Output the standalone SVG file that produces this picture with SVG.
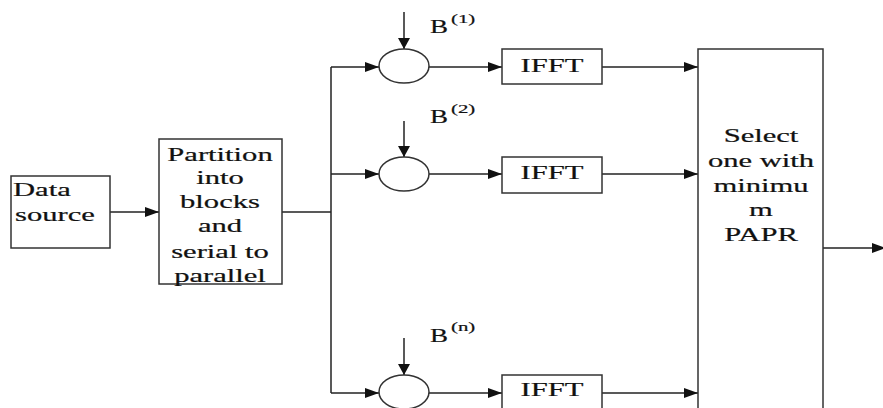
<svg xmlns="http://www.w3.org/2000/svg" width="883" height="408" viewBox="0 0 883 408">
<style>
.box{fill:#fff;stroke:#333;stroke-width:1.5}
.ln{fill:none;stroke:#222;stroke-width:1.5}
text{font-family:'Liberation Serif','DejaVu Serif',serif;font-size:18px;fill:#111;stroke:#111;stroke-width:0.2}
.m{text-anchor:middle}
.s{font-size:13px}
</style>
<defs>
<marker id="ah" viewBox="0 0 14 10" refX="14" refY="5" markerWidth="14" markerHeight="10" markerUnits="userSpaceOnUse" orient="auto"><path d="M0,0 L14,5 L0,10 z" fill="#111"/></marker>
<marker id="av" viewBox="0 0 11 12" refX="11" refY="6" markerWidth="11" markerHeight="12" markerUnits="userSpaceOnUse" orient="auto"><path d="M0,0 L11,6 L0,12 z" fill="#111"/></marker>
</defs>
<rect width="883" height="408" fill="#fff"/>
<g id="connectors">
<path class="ln" d="M110,212 H159" marker-end="url(#ah)"/>
<path class="ln" d="M282,212 H331"/>
<path class="ln" d="M331,67 V393"/>
<path class="ln" d="M331,67 H379" marker-end="url(#ah)"/>
<path class="ln" d="M331,174 H379" marker-end="url(#ah)"/>
<path class="ln" d="M331,393 H379" marker-end="url(#ah)"/>
<path class="ln" d="M404,12 V49" marker-end="url(#av)"/>
<path class="ln" d="M404,121 V157" marker-end="url(#av)"/>
<path class="ln" d="M404,338 V375" marker-end="url(#av)"/>
<path class="ln" d="M429,67 H502" marker-end="url(#ah)"/>
<path class="ln" d="M429,174 H502" marker-end="url(#ah)"/>
<path class="ln" d="M429,393 H502" marker-end="url(#ah)"/>
<path class="ln" d="M602,67 H698" marker-end="url(#ah)"/>
<path class="ln" d="M602,174 H698" marker-end="url(#ah)"/>
<path class="ln" d="M602,393 H698" marker-end="url(#ah)"/>
<path class="ln" d="M823,248 H886" marker-end="url(#ah)"/>
</g>
<g id="data-source">
<rect class="box" x="11" y="176" width="99" height="72"/>
<text transform="translate(13,196) scale(1.7,1)">Data</text>
<text transform="translate(15,221) scale(1.7,1)">source</text>
</g>
<g id="partition">
<rect class="box" x="159" y="139" width="123" height="145"/>
<text class="m" transform="translate(220,161) scale(1.7,1)">Partition</text>
<text class="m" transform="translate(220,184) scale(1.7,1)">into</text>
<text class="m" transform="translate(220,208) scale(1.7,1)">blocks</text>
<text class="m" transform="translate(220,232) scale(1.7,1)">and</text>
<text class="m" transform="translate(220,258) scale(1.7,1)">serial to</text>
<text class="m" transform="translate(220,282) scale(1.7,1)">parallel</text>
</g>
<g id="mult-1">
<ellipse class="box" cx="404" cy="66" rx="25" ry="17"/>
<text transform="translate(430,33) scale(1.5,1)">B</text>
<text class="s" transform="translate(451,23) scale(1.6,1)">(1)</text>
</g>
<g id="mult-2">
<ellipse class="box" cx="404" cy="174" rx="25" ry="17"/>
<text transform="translate(430,123) scale(1.5,1)">B</text>
<text class="s" transform="translate(451,113) scale(1.6,1)">(2)</text>
</g>
<g id="mult-n">
<ellipse class="box" cx="404" cy="392" rx="25" ry="17"/>
<text transform="translate(430,342) scale(1.5,1)">B</text>
<text class="s" transform="translate(451,331) scale(1.6,1)">(n)</text>
</g>
<g id="ifft-1">
<rect class="box" x="502" y="49" width="100" height="35"/>
<text class="m" transform="translate(552,72) scale(1.7,1)">IFFT</text>
</g>
<g id="ifft-2">
<rect class="box" x="502" y="157" width="100" height="36"/>
<text class="m" transform="translate(552,179) scale(1.7,1)">IFFT</text>
</g>
<g id="ifft-n">
<rect class="box" x="502" y="375" width="100" height="45"/>
<text class="m" transform="translate(552,396) scale(1.7,1)">IFFT</text>
</g>
<g id="select">
<rect class="box" x="698" y="49" width="125" height="380"/>
<text class="m" transform="translate(761,142) scale(1.7,1)">Select</text>
<text class="m" transform="translate(761,167) scale(1.7,1)">one with</text>
<text class="m" transform="translate(761,192) scale(1.7,1)">minimu</text>
<text class="m" transform="translate(761,216) scale(1.7,1)">m</text>
<text class="m" transform="translate(761,241) scale(1.7,1)">PAPR</text>
</g>
</svg>
